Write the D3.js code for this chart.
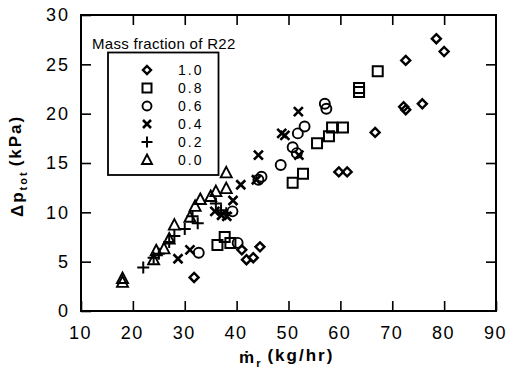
<!DOCTYPE html>
<html>
<head>
<meta charset="utf-8">
<script src="https://cdn.jsdelivr.net/npm/d3@7"></script>
<style>
  html, body { margin: 0; padding: 0; background: #fff; }
  svg { display: block; }
  text { font-family: "Liberation Sans", Arial, Helvetica, sans-serif; fill: #000; }
</style>
</head>
<body>
<div id="chart"></div>
<script>
// ---------- data ----------
const seriesLabels = ["1.0", "0.8", "0.6", "0.4", "0.2", "0.0"];
const seriesSymbols = ["diamond", "square", "circle", "cross", "plus", "triangle"];

const r22_10 = [[31.8,3.4],[41,6.2],[41.9,5.2],[43.2,5.4],[44.5,6.5],[59.7,14.1],[61.3,14.1],[66.7,18.1],
                [72.2,20.7],[72.6,20.4],[75.8,21.0],[72.6,25.4],[78.5,27.6],[80,26.3]];
const r22_08 = [[36.3,6.7],[37.7,7.5],[38.8,6.9],[50.8,13.0],[52.8,13.9],[55.5,17.0],[57.8,17.7],
                [58.4,18.6],[60.5,18.6],[63.6,22.6],[63.6,22.2],[67.2,24.3]];
const r22_06 = [[32.7,5.9],[39.2,10.1],[40.2,6.9],[44.2,13.3],[44.8,13.6],[48.5,14.8],[50.8,16.6],
                [51.6,16.0],[51.8,18.0],[53.1,18.7],[57.0,21.0],[57.3,20.5]];
const r22_04 = [[28.7,5.3],[31,6.2],[35.8,10.1],[37.1,9.7],[38.1,9.6],[39.3,11.2],[40.8,12.8],[43.8,13.3],
                [44.2,15.8],[48.7,18.0],[49.3,17.8],[51.9,20.2],[52,15.8]];
const r22_02 = [[22,4.4],[24,5.4],[25,5.8],[27,7.0],[28,7.6],[30,8.3],[31.5,9.6],[32.5,8.9],
                [36,10.9],[37,10.2],[38,9.9]];
const r22_00 = [[18,3.3],[18,2.9],[24,5.2],[24.5,6.1],[26,6.3],[27,7.3],[28,8.7],[31,9.5],[32,10.6],
                [33,11.3],[35,11.6],[36,12.1],[38,12.4],[38,14.0]];
const seriesData = [r22_10, r22_08, r22_06, r22_04, r22_02, r22_00];

const xTicks = [10, 20, 30, 40, 50, 60, 70, 80, 90];
const yTicks = [0, 5, 10, 15, 20, 25, 30];
const legendTitle = "Mass fraction of R22";

// ---------- layout ----------
const W = 506, H = 373;
const L = 81, R = 496, T = 15, B = 311;

const svg = d3.select("#chart").append("svg").attr("width", W).attr("height", H);

const x = d3.scaleLinear().domain([10, 90]).range([L, R]);
const y = d3.scaleLinear().domain([0, 30]).range([B, T]);

// symbol path generator (size = full width in px)
function symPath(type, s) {
  const h = s / 2;
  switch (type) {
    case "diamond": return `M0,${-h}L${h},0L0,${h}L${-h},0Z`;
    case "square": return `M${-h},${-h}H${h}V${h}H${-h}Z`;
    case "circle": return `M${h},0A${h},${h} 0 1,1 ${-h},0A${h},${h} 0 1,1 ${h},0Z`;
    case "cross": return `M${-h},${-h}L${h},${h}M${h},${-h}L${-h},${h}`;
    case "plus": return `M${-h-0.5},0H${h+0.5}M0,${-h-0.5}V${h+0.5}`;
    case "triangle": return `M0,${-h-1}L${h+0.5},${h-0.5}L${-h-0.5},${h-0.5}Z`;
  }
}
const symSize = {diamond: 9, square: 10, circle: 10, cross: 9, plus: 11, triangle: 10};
const symStroke = {diamond: 2.4, square: 2, circle: 1.9, cross: 2.6, plus: 2, triangle: 1.9};

// ---------- axes ----------
const tickFont = 18;
function styleAxis(g) {
  g.select(".domain").remove();
  g.selectAll(".tick line").attr("stroke", "#000").attr("stroke-width", 1.6);
  g.selectAll(".tick text").attr("font-size", tickFont).attr("fill", "#000")
    .style("font-family", '"Liberation Sans", Arial, sans-serif');
}

svg.append("g").attr("transform", `translate(0,${B})`)
  .call(d3.axisBottom(x).tickValues(xTicks).tickSize(-10).tickPadding(15).tickFormat(d3.format("d")))
  .call(styleAxis)
  .call(g => g.selectAll(".tick text").style("letter-spacing", "1.5px").attr("dx", "-1px"));

svg.append("g").attr("transform", `translate(0,${T})`)
  .call(d3.axisTop(x).tickValues(xTicks.slice(1, -1)).tickSize(-10).tickFormat(""))
  .call(styleAxis);

svg.append("g").attr("transform", `translate(${L},0)`)
  .call(d3.axisLeft(y).tickValues(yTicks).tickSize(-10).tickPadding(11).tickFormat(d3.format("d")))
  .call(styleAxis)
  .call(g => g.selectAll(".tick text").style("letter-spacing", "2px"));

svg.append("g").attr("transform", `translate(${R},0)`)
  .call(d3.axisRight(y).tickValues(yTicks.slice(1, -1)).tickSize(-10).tickFormat(""))
  .call(styleAxis);

// frame
svg.append("rect").attr("x", L).attr("y", T).attr("width", R - L).attr("height", B - T)
  .attr("fill", "none").attr("stroke", "#000").attr("stroke-width", 2);

// ---------- points ----------
seriesData.forEach((data, i) => {
  const type = seriesSymbols[i];
  svg.append("g").selectAll("path").data(data).join("path")
    .attr("transform", d => `translate(${x(d[0])},${y(d[1])})`)
    .attr("d", symPath(type, symSize[type]))
    .attr("fill", "none").attr("stroke", "#000")
    .attr("stroke-width", symStroke[type]);
});

// ---------- legend ----------
svg.append("text").attr("x", 92).attr("y", 49).attr("font-size", 15)
  .style("letter-spacing", "0.3px").text(legendTitle);
svg.append("rect").attr("x", 108).attr("y", 52.5).attr("width", 110.5).attr("height", 122.5)
  .attr("fill", "#fff").attr("stroke", "#000").attr("stroke-width", 1.8);
const lg = svg.append("g");
seriesLabels.forEach((lab, i) => {
  const cy = 70 + i * 18;
  const type = seriesSymbols[i];
  lg.append("path").attr("transform", `translate(147,${cy})`)
    .attr("d", symPath(type, symSize[type] - 1))
    .attr("fill", "none").attr("stroke", "#000").attr("stroke-width", symStroke[type]);
  lg.append("text").attr("x", 178).attr("y", cy + 5).attr("font-size", 14)
    .style("letter-spacing", "2px").text(lab);
});

// ---------- axis titles ----------
const xt = svg.append("text").attr("x", 239).attr("y", 363).attr("font-size", 17)
  .attr("font-weight", "bold").style("letter-spacing", "2px");
xt.append("tspan").text("m\u0307");
xt.append("tspan").attr("font-size", 11).attr("dy", 4).text("r");
xt.append("tspan").attr("dy", -6).attr("dx", 5).text("(kg/hr)");

const yt = svg.append("text").attr("transform", "translate(23,217) rotate(-90)")
  .attr("font-size", 17).attr("font-weight", "bold").style("letter-spacing", "2px");
yt.append("tspan").text("\u0394p");
yt.append("tspan").attr("font-size", 11).attr("dy", 4).text("tot");
yt.append("tspan").attr("dy", -6).attr("dx", 4).text("(kPa)");
</script>
</body>
</html>
